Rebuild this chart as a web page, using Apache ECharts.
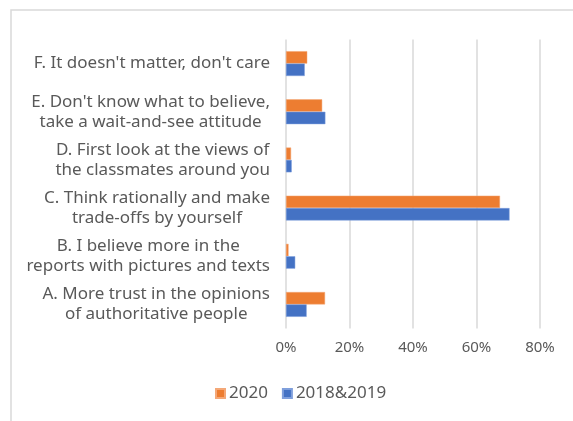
<!DOCTYPE html>
<html>
<head>
<meta charset="utf-8">
<script src="https://cdn.jsdelivr.net/npm/echarts@6/dist/echarts.min.js"></script>
<style>
  html, body { margin: 0; padding: 0; background: #fff; }
  #chart { width: 573px; height: 421px; }
</style>
</head>
<body>
<div id="chart"></div>
<script>
  // categories from bottom (A) to top (F)
  var categories = [
    "A. More trust in the opinions\nof authoritative people",
    "B. I believe more in the\nreports with pictures and texts",
    "C. Think rationally and make\ntrade-offs by yourself",
    "D. First look at the views of\nthe classmates around you",
    "E. Don't know what to believe,\ntake a wait-and-see attitude",
    "F. It doesn't matter, don't care"
  ];
  var seriesNames = ["2020", "2018&2019"];
  var values2020 = [12.3, 0.8, 67.4, 1.6, 11.4, 6.7];
  var values2018 = [6.5, 2.9, 70.4, 1.8, 12.4, 5.9];
  var xTicks = [0, 20, 40, 60, 80];

  var chart = echarts.init(document.getElementById("chart"));
  var font = "'Noto Sans', sans-serif";

  var option = {
    backgroundColor: "#fff",
    animation: false,
    graphic: [{
      type: "rect",
      shape: { x: 11, y: 10, width: 800, height: 600 },
      style: { fill: "none", stroke: "#d9d9d9", lineWidth: 1.5 },
      silent: true
    }],
    legend: {
      data: seriesNames,
      top: 380,
      left: 210,
      itemWidth: 9,
      itemHeight: 9,
      itemGap: 14,
      icon: "rect",
      textStyle: { color: "#595959", fontSize: 17, fontFamily: font, padding: [0, 0, 0, -1] }
    },
    grid: { left: 286, right: 33, top: 39.5, bottom: 92.5, containLabel: false },
    xAxis: {
      type: "value",
      min: xTicks[0],
      max: xTicks[xTicks.length - 1],
      interval: 20,
      axisLine: { show: false },
      axisTick: { show: false },
      splitLine: { lineStyle: { color: "#d9d9d9", width: 1.5 } },
      axisLabel: {
        formatter: "{value}%",
        color: "#595959",
        fontSize: 15,
        fontFamily: font,
        margin: 12
      }
    },
    yAxis: {
      type: "category",
      data: categories,
      axisLine: { show: false },
      axisTick: { show: false },
      axisLabel: {
        margin: 16,
        color: "#595959",
        fontSize: 17,
        fontFamily: font,
        lineHeight: 20,
        formatter: function (v) {
          return v.split("\n").map(function (l) { return "{c|" + l + "}"; }).join("\n");
        },
        rich: { c: { align: "center", color: "#595959", fontSize: 17, fontFamily: font, lineHeight: 20 } }
      }
    },
    series: [
      {
        name: "2020",
        type: "bar",
        data: values2020,
        barWidth: 12.4,
        barGap: "0%",
        itemStyle: { color: "#ED7D31", borderColor: "#f4a878", borderWidth: 0.5 }
      },
      {
        name: "2018&2019",
        type: "bar",
        data: values2018,
        barWidth: 12.4,
        barGap: "0%",
        itemStyle: { color: "#4472C4", borderColor: "#7f9fdc", borderWidth: 0.5 }
      }
    ]
  };
  chart.setOption(option);
</script>
</body>
</html>
